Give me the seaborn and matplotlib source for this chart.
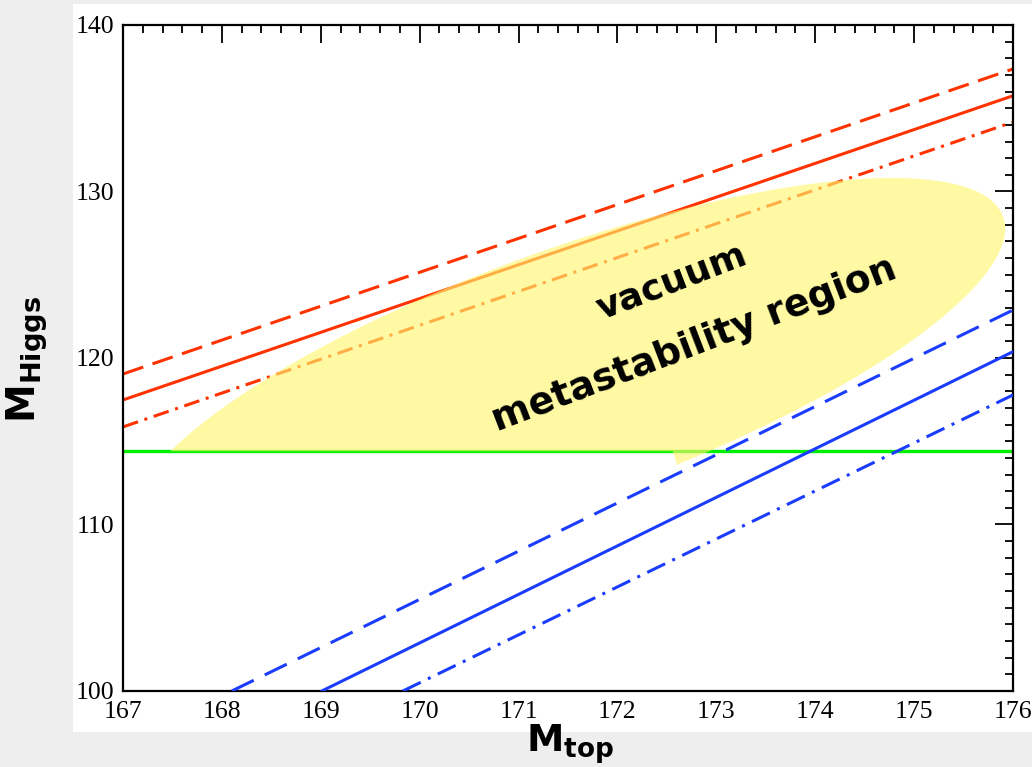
import numpy as np
import pandas as pd
import matplotlib
matplotlib.use("Agg")
import matplotlib.pyplot as plt
from matplotlib.patches import Rectangle
from matplotlib.ticker import MultipleLocator
import seaborn as sns

# --- bounds on the Higgs mass versus the top mass -------------------------
# upper bound (red): central value, +1 sigma, -1 sigma
red_mtop = [167.0, 176.0]
red_central = [117.48, 135.75]
red_upper = [119.04, 137.36]
red_lower = [115.86, 134.17]

# stability bound (blue): each curve starts at M_Higgs = 100 and runs to M_top = 176
blue_central_mtop = [169.01, 176.0]
blue_central_mh = [100.0, 120.38]
blue_upper_mtop = [168.10, 176.0]
blue_upper_mh = [100.0, 122.88]
blue_lower_mtop = [169.83, 176.0]
blue_lower_mh = [100.0, 117.78]

# LEP direct search limit
lep_mtop = [167.0, 176.0]
lep_mh = [114.4, 114.4]

# metastability region: centre and two conjugate semi-axes (data units)
region_center = (171.50, 119.05)
region_axis_a = (4.40, 9.45)
region_axis_b = (0.43, -7.00)
region_floor = 114.4
region_floor_until = 172.6

x_ticks = [167, 168, 169, 170, 171, 172, 173, 174, 175, 176]
y_ticks = [100, 110, 120, 130, 140]

sns.set_theme(style="white")
plt.rcParams["font.family"] = ["DejaVu Sans"]

RED = "#ff3300"
BLUE = "#1a3cff"
GREEN = "#00ee00"

fig = plt.figure(figsize=(10.32, 7.67), dpi=100, facecolor="#eeeeee")
fig.patches.append(Rectangle((73 / 1032, 1 - 732 / 767), (1032 - 73) / 1032, (732 - 4) / 767,
                             transform=fig.transFigure, facecolor="white",
                             edgecolor="none", zorder=-1))
ax = fig.add_axes([123 / 1032, 1 - 691 / 767, 890 / 1032, 666 / 767])
ax.set_facecolor("white")

def line(xs, ys, color, ls, lw=2.2, z=2):
    df = pd.DataFrame({"mtop": xs, "mh": ys})
    sns.lineplot(data=df, x="mtop", y="mh", ax=ax, color=color, linestyle=ls,
                 linewidth=lw, zorder=z, sort=False, estimator=None)

# red upper bounds
line(red_mtop, red_upper, RED, (0, (7.0, 3.2)))
line(red_mtop, red_central, RED, "-")
line(red_mtop, red_lower, RED, (0, (5.2, 2.2, 1.0, 2.2)))

# LEP limit
line(lep_mtop, lep_mh, GREEN, "-", lw=2.4)

# metastability region (translucent yellow, cut at the LEP limit)
t = np.linspace(0, 2 * np.pi, 600)
ex = region_center[0] + region_axis_a[0] * np.cos(t) + region_axis_b[0] * np.sin(t)
ey = region_center[1] + region_axis_a[1] * np.cos(t) + region_axis_b[1] * np.sin(t)
ey = np.where(ex < region_floor_until, np.maximum(ey, region_floor), ey)
ax.fill(ex, ey, color="#fff770", alpha=0.63, lw=0, zorder=3)

# blue stability bounds
line(blue_upper_mtop, blue_upper_mh, BLUE, (0, (8.0, 4.0)), z=4)
line(blue_central_mtop, blue_central_mh, BLUE, "-", z=4)
line(blue_lower_mtop, blue_lower_mh, BLUE, (0, (6.5, 2.6, 1.0, 2.6)), z=4)

ax.text(172.55, 124.56, "vacuum", rotation=21, rotation_mode="anchor",
        ha="center", va="center", fontsize=26, fontweight="bold", color="black", zorder=5)
ax.text(172.78, 120.78, "metastability region", rotation=21, rotation_mode="anchor",
        ha="center", va="center", fontsize=27, fontweight="bold", color="black", zorder=5)

ax.set_xlim(167, 176)
ax.set_ylim(100, 140)
ax.set_xticks(x_ticks)
ax.set_yticks(y_ticks)
ax.set_xticklabels([str(v) for v in x_ticks])
ax.set_yticklabels([str(v) for v in y_ticks])
ax.xaxis.set_minor_locator(MultipleLocator(0.2))
ax.yaxis.set_minor_locator(MultipleLocator(1))
ax.tick_params(which="both", direction="in", top=True, right=True,
               color="black", width=1.3)
ax.tick_params(which="major", length=13, labelsize=18.5, labelcolor="black")
ax.tick_params(axis="x", which="major", pad=7)
ax.tick_params(axis="y", which="major", pad=6)
ax.tick_params(which="minor", length=6)
for lab in ax.get_xticklabels() + ax.get_yticklabels():
    lab.set_fontfamily("Liberation Serif")
for sp in ax.spines.values():
    sp.set_visible(True)
    sp.set_color("black")
    sp.set_linewidth(1.6)

ax.set_xlabel(r"$\mathbf{M}_{\mathbf{top}}$", fontsize=27, color="black")
ax.set_ylabel(r"$\mathbf{M}_{\mathbf{Higgs}}$", fontsize=28, color="black")
ax.xaxis.set_label_coords(0.502, -0.047)
ax.yaxis.set_label_coords(-0.082, 0.497)
ax.xaxis.label.set_va("top")

fig.savefig("out.png", dpi=100, facecolor=fig.get_facecolor())
